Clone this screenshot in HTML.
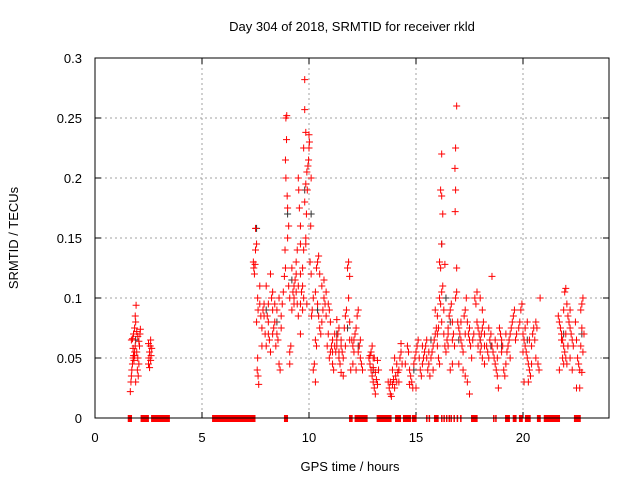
<!DOCTYPE html>
<html><head><meta charset="utf-8"><style>
html,body{margin:0;padding:0;background:#fff;}
svg{display:block;font-family:"Liberation Sans",sans-serif;}
</style></head><body>
<svg id="chart" width="640" height="480" xmlns="http://www.w3.org/2000/svg">
<text x="352" y="31" font-size="13" text-anchor="middle">Day 304 of 2018, SRMTID for receiver rkld</text>
<text x="350" y="471" font-size="13" text-anchor="middle">GPS time / hours</text>
<text transform="translate(18,238) rotate(-90)" font-size="13" text-anchor="middle">SRMTID / TECUs</text>
<g id="grid"></g>
<g id="axes"></g>
<g id="black"></g>
<g id="red"></g>
<g id="bars"></g>
<rect x="95" y="58" width="514" height="360" fill="none" stroke="#000" stroke-width="1"/>
</svg>
<script>
const xTicks=[0,5,10,15,20];
const yTicks=[0,0.05,0.1,0.15,0.2,0.25,0.3];
const yTickLabels=["0","0.05","0.1","0.15","0.2","0.25","0.3"];
const redTimes=[1.65,1.68,1.70,1.72,1.75,1.78,1.80,1.82,1.85,1.88,1.70,1.75,1.80,1.85,1.90,1.88,1.92,1.95,2.0,2.05,2.1,2.12,1.95,2.0,2.05,1.98,2.02,1.9,1.85,1.78,2.08,
2.5,2.52,2.55,2.58,2.6,2.62,2.55,2.65,2.5,2.6,
7.4,7.42,7.45,7.48,7.5,7.55,7.5,7.6,7.62,7.55,7.6,7.58,7.62,7.65,7.7,7.75,7.8,7.85,7.9,7.95,8.0,8.05,8.1,8.15,8.2,8.25,8.3,8.35,8.4,8.45,8.5,8.55,8.6,8.65,8.7,8.75,8.8,8.85,8.9,8.88,8.92,8.9,8.95,8.92,8.96,8.98,9.0,9.05,9.0,9.05,9.1,9.1,9.1,9.15,9.2,9.25,9.3,9.35,9.4,9.45,9.5,9.52,9.55,9.6,9.6,9.65,9.7,9.75,9.8,9.85,9.9,9.95,10.0,10.02,9.98,9.92,9.88,9.85,9.85,9.8,9.8,9.75,9.85,10.0,10.1,10.08,10.05,10.1,10.12,10.15,9.9,9.7,9.6,9.5,9.45,10.2,10.3,10.35,10.4,10.45,10.5,10.4,10.45,10.5,10.55,10.6,10.3,10.35,10.25,10.3,10.2,10.65,10.7,10.75,10.8,10.85,10.9,10.95,11.0,11.05,11.1,11.15,11.2,11.25,11.3,11.35,11.4,11.45,11.5,11.55,11.6,11.65,11.7,11.75,11.8,11.85,11.9,11.85,11.9,12.0,12.05,12.1,12.15,12.2,12.25,12.3,12.35,12.4,12.45,12.5,12.4,12.3,12.2,12.05,11.95,11.6,11.5,11.0,10.95,11.3,11.4,
12.8,12.85,12.9,12.95,13.0,13.05,12.9,12.95,13.0,13.1,13.15,13.2,13.1,12.85,13.05,13.2,13.25,
13.7,13.75,13.8,13.85,13.9,13.95,14.0,14.05,14.1,14.15,14.2,14.25,14.3,14.35,14.0,14.1,13.8,13.9,14.3,
14.6,14.65,14.7,14.75,14.8,14.85,14.9,14.95,15.0,15.05,15.1,15.15,15.2,15.25,15.3,15.35,15.4,15.45,15.5,15.55,15.6,15.65,15.7,15.75,15.8,15.85,15.9,15.95,16.0,16.05,16.1,15.8,15.0,14.7,15.9,16.0,16.05,
16.1,16.15,16.2,16.25,16.2,16.3,16.35,16.4,16.45,16.5,16.1,16.15,16.2,16.25,16.2,16.15,16.2,16.35,16.5,16.55,16.6,16.65,16.7,16.75,16.8,16.85,16.9,16.95,17.0,17.05,17.1,17.15,17.2,16.9,16.85,16.82,16.83,16.85,16.9,16.7,16.6,17.25,17.3,17.35,17.4,17.45,17.5,17.55,17.6,17.2,17.3,17.4,17.5,17.0,17.65,17.7,
17.75,17.8,17.85,17.9,17.95,18.0,18.05,18.1,18.15,18.2,17.9,18.0,18.05,18.1,18.2,18.3,18.35,18.4,18.45,18.5,18.55,18.6,18.65,18.7,18.75,18.8,18.85,18.7,18.8,18.9,18.95,19.0,19.05,19.1,19.15,19.2,19.25,19.3,19.35,19.4,19.45,19.5,18.55,17.85,18.0,19.55,19.6,19.65,19.7,
19.8,19.85,19.9,19.95,20.0,20.05,20.1,20.15,20.2,20.25,20.3,20.35,20.1,20.2,20.3,20.4,20.45,20.5,20.55,20.6,20.65,20.6,20.7,20.75,20.8,20.05,20.25,
21.65,21.7,21.75,21.8,21.85,21.9,21.95,22.0,22.05,21.7,21.8,21.9,21.95,22.0,22.05,22.1,22.15,22.2,22.25,22.3,22.35,22.1,22.2,22.3,21.85,21.9,
22.45,22.5,22.55,22.6,22.65,22.5,22.65,22.7,22.75,22.8,22.75,22.7,22.8,22.85,22.75,
8.0,8.1,8.2,8.3,8.4,8.5,8.6,8.7,8.3,8.1,7.9,7.7,7.8,9.2,9.3,9.4,9.5,9.6,9.7,9.75,9.4,9.3,9.6,10.6,10.7,10.8,10.9,11.1,11.2,11.3,11.5,11.7,11.4,11.1,11.9,12.1,15.5,15.3,15.6,16.0,16.3,16.5,16.7,17.1,17.3,17.5,18.1,18.2,18.4,18.8,19.0,19.2,19.4,20.0,20.4,22.0,22.2,14.2,14.5,13.0];
const redValues=[.022,.03,.035,.04,.045,.05,.052,.048,.055,.06,.065,.066,.07,.075,.08,.085,.094,.072,.068,.064,.07,.074,.055,.05,.045,.04,.035,.03,.052,.058,.06,
.045,.05,.055,.06,.065,.052,.042,.058,.062,.048,
.13,.125,.12,.128,.14,.145,.158,.1,.09,.08,.05,.04,.035,.028,.11,.085,.075,.09,.095,.07,.06,.085,.08,.065,.055,.1,.09,.075,.08,.06,.07,.065,.045,.04,.085,.095,.105,.118,.125,.14,.2,.215,.232,.25,.252,.185,.175,.16,.15,.11,.1,.055,.045,.06,.09,.105,.11,.115,.13,.14,.2,.19,.175,.16,.12,.105,.11,.1,.18,.195,.205,.21,.225,.23,.215,.19,.17,.15,.145,.282,.257,.225,.238,.236,.2,.16,.13,.12,.085,.09,.095,.09,.07,.085,.095,.1,.105,.125,.13,.135,.12,.095,.085,.075,.07,.08,.065,.06,.045,.03,.04,.09,.1,.095,.085,.06,.07,.05,.055,.06,.045,.04,.06,.055,.065,.07,.05,.045,.06,.055,.05,.075,.085,.09,.125,.13,.118,.1,.08,.065,.06,.055,.07,.075,.085,.09,.06,.05,.045,.04,.065,.055,.04,.045,.04,.035,.038,.08,.09,.082,.075,
.05,.045,.04,.035,.03,.025,.055,.06,.042,.038,.032,.028,.02,.052,.05,.048,.04,
.03,.025,.02,.018,.028,.032,.025,.035,.03,.038,.04,.05,.055,.045,.05,.045,.03,.04,.062,
.06,.055,.04,.035,.03,.025,.045,.05,.055,.06,.065,.05,.04,.035,.045,.05,.055,.06,.065,.04,.045,.035,.05,.055,.06,.065,.07,.075,.06,.05,.045,.04,.025,.028,.09,.085,.075,
.1,.095,.105,.11,.08,.07,.06,.055,.065,.07,.13,.125,.145,.17,.185,.19,.22,.128,.075,.085,.09,.095,.08,.07,.06,.1,.105,.08,.075,.07,.065,.06,.055,.26,.225,.208,.172,.19,.125,.045,.04,.085,.09,.1,.08,.07,.065,.06,.05,.04,.035,.03,.02,.045,.065,.07,
.1,.095,.08,.075,.07,.065,.07,.075,.08,.07,.06,.055,.06,.05,.045,.06,.055,.05,.065,.07,.06,.055,.05,.045,.04,.035,.025,.065,.06,.075,.07,.065,.06,.04,.035,.045,.055,.06,.065,.07,.075,.08,.118,.105,.1,.085,.09,.065,.07,
.075,.08,.09,.095,.07,.065,.06,.055,.05,.045,.04,.035,.075,.08,.065,.06,.07,.075,.065,.08,.075,.05,.045,.04,.1,.03,.03,
.085,.08,.075,.07,.065,.06,.055,.05,.045,.04,.065,.09,.105,.108,.095,.085,.08,.075,.07,.065,.06,.06,.05,.04,.05,.045,
.08,.065,.05,.045,.04,.025,.025,.09,.095,.1,.075,.06,.055,.07,.038,
.11,.095,.12,.105,.095,.09,.1,.075,.07,.07,.085,.095,.06,.125,.095,.105,.11,.095,.125,.14,.12,.1,.145,.11,.115,.105,.095,.065,.07,.06,.065,.06,.055,.055,.065,.065,.05,.06,.055,.07,.09,.06,.065,.08,.07,.075,.09,.06,.075,.05,.055,.07,.05,.055,.045,.07,.09,.03,.045,.05];
const blackTimes=[1.9,8.5,9.2,9.8,10.1,10.4,11.3,12.3,14.9,15.7,16.2,16.4,17.0,18.0,19.0,20.2,21.9,7.55,8.0,9.0,11.8,13.0,16.6,18.5,22.75];
const blackValues=[.065,.08,.115,.19,.17,.09,.07,.06,.04,.065,.145,.1,.065,.065,.06,.065,.07,.158,.09,.17,.075,.04,.08,.06,.07];
const gapStarts=[1.53,2.13,2.62,5.47,8.83,11.87,12.13,13.16,14.02,14.39,14.81,15.47,15.59,15.84,16.17,16.28,16.4,16.52,16.61,16.75,16.9,17.06,17.57,18.6,18.7,19.16,19.52,19.81,20.09,20.65,20.97,22.38];
const gapEnds=[1.73,2.52,3.5,7.5,9.02,12.04,12.74,13.86,14.3,14.77,15.03,15.52,15.65,16.06,16.22,16.33,16.45,16.59,16.66,16.8,16.95,17.11,17.88,18.65,18.75,19.39,19.7,19.99,20.36,20.83,21.73,22.7];

const X0=95,X1=608.6,Y0=418,Y1=58;
const xs=h=>X0+(X1-X0)*h/24;
const ys=v=>Y0-(Y0-Y1)*v/0.3;
const NS="http://www.w3.org/2000/svg";
function mk(tag,attrs,parent){const e=document.createElementNS(NS,tag);for(const k in attrs)e.setAttribute(k,attrs[k]);parent.appendChild(e);return e;}
const grid=document.getElementById('grid'),axes=document.getElementById('axes');
xTicks.forEach(t=>{
  const x=xs(t);
  if(t>0){const g=mk('line',{x1:x,x2:x,y1:Y1,y2:Y0,stroke:'#a0a0a0','stroke-dasharray':'2,3'},grid);
  
  }
  mk('line',{x1:x,x2:x,y1:Y0,y2:Y0-6,stroke:'#000'},axes);
  mk('line',{x1:x,x2:x,y1:Y1,y2:Y1+6,stroke:'#000'},axes);
  const l=mk('text',{x:x,y:442,'font-size':13,'text-anchor':'middle'},axes);
  l.textContent=String(t);
  
  
});
yTicks.forEach((t,i)=>{
  const y=ys(t);
  if(t>0&&t<0.3){const g=mk('line',{x1:X0,x2:609,y1:y,y2:y,stroke:'#a0a0a0','stroke-dasharray':'2,3'},grid);
  
  }
  mk('line',{x1:X0,x2:X0+6,y1:y,y2:y,stroke:'#000'},axes);
  mk('line',{x1:609,x2:603,y1:y,y2:y,stroke:'#000'},axes);
  const l=mk('text',{x:82,y:y+5,'font-size':13,'text-anchor':'end'},axes);
  l.textContent=yTickLabels[i];
  
  
});
function cross(g,h,v,col,name){
  const x=xs(h),y=ys(v);
  const p=mk('path',{d:`M${x-3.5} ${y}H${x+3.5}M${x} ${y-3.5}V${y+3.5}`,stroke:col,'stroke-width':1,fill:'none'},g);
  
  
}
const bg=document.getElementById('black');
blackTimes.forEach((h,i)=>cross(bg,h,blackValues[i],'#333','all-point'));
const rg=document.getElementById('red');
redTimes.forEach((h,i)=>cross(rg,h,redValues[i],'#ff0000','srmtid-point'));
const bars=document.getElementById('bars');
gapStarts.forEach((s,i)=>{
  const x=xs(s),w=Math.max(1.5,xs(gapEnds[i])-x);
  const r=mk('rect',{x:x,y:415,width:w,height:7,fill:'#ff0000'},bars);
  
  
});
</script>
</body></html>
